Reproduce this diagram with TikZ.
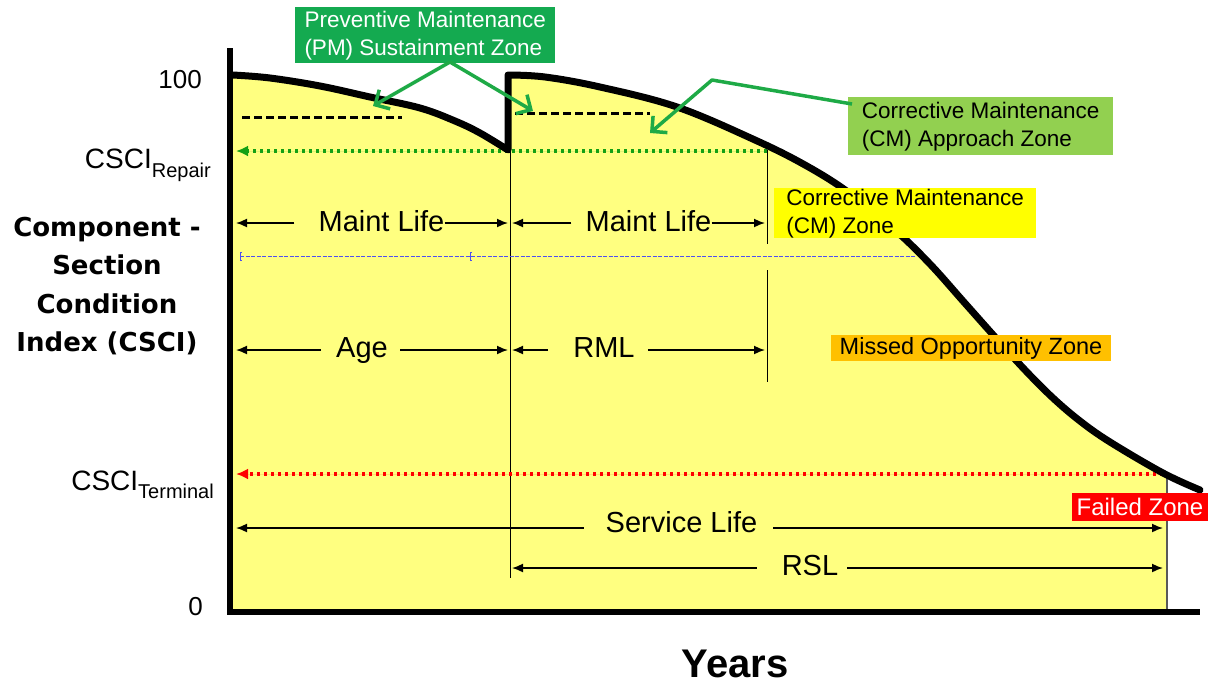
\documentclass[tikz,border=0pt]{standalone}
\usepackage{fontspec}
\setmainfont{Liberation Sans}
\newfontfamily\wideboldfont{DejaVu Sans}
\usetikzlibrary{arrows.meta}

\definecolor{areayellow}{RGB}{255,255,128}
\definecolor{pmgreen}{RGB}{20,170,80}
\definecolor{cmgreen}{RGB}{146,208,80}
\definecolor{cmyellow}{RGB}{255,255,0}
\definecolor{missorange}{RGB}{255,192,0}
\definecolor{failred}{RGB}{255,0,0}
\definecolor{arrowgreen}{RGB}{30,170,70}
\definecolor{repairgreen}{RGB}{20,160,20}
\definecolor{gridblue}{RGB}{80,80,240}

\newcommand\DimTxt{\fontsize{29}{34}\selectfont}
\newcommand\TickTxt{\fontsize{26}{30}\selectfont}
\newcommand\SubTxt{\fontsize{20}{24}\selectfont}
\newcommand\BoxTxt{\fontsize{22.5}{28}\selectfont}
\newcommand\AxisTxt{\wideboldfont\bfseries\fontsize{26}{38.5}\selectfont}
\newcommand\YearsTxt{\bfseries\fontsize{40}{46}\selectfont}

\begin{document}
\begin{tikzpicture}[x=1pt,y=-1pt,
  dimtext/.style={inner sep=0pt,anchor=base,font=\DimTxt},
  dimline/.style={line width=1.6pt,-{Latex[length=11pt,width=9pt]}},
  curveline/.style={line width=7pt,line join=round,line cap=round},
  axisline/.style={line width=6pt},
  guide/.style={line width=1pt},
  zonebox/.style={inner xsep=4pt,inner ysep=0pt,anchor=north west,align=left,font=\BoxTxt},
  callout/.style={draw=arrowgreen,line width=3.5pt,line join=round,
    -{Straight Barb[length=11pt,width=22pt,line width=3.5pt]}},
  levelline/.style={line width=3.5pt,dash pattern=on 3.5pt off 3.5pt,
    -{Latex[length=12pt,width=11pt]}},
  pmdash/.style={line width=3pt,dash pattern=on 8pt off 4pt},
  blueline/.style={draw=gridblue,line width=1pt,dash pattern=on 4pt off 1.5pt}
]
\useasboundingbox (0,0) rectangle (1208,683);

% area under the condition curve
\fill[areayellow]
  plot[smooth,tension=0.6] coordinates {(233,75) (270,78) (320,86) (370,97)
      (420,108) (455,121) (480,133) (508,150)}
  -- plot[smooth,tension=0.6] coordinates {(508,75) (545,77) (600,87) (677,107)
      (755,140) (805,165) (848,192) (895,230) (930,264) (963,301) (995,337)
      (1025,370) (1053,398) (1080,421) (1110,442) (1163,473)}
  -- (1167,474) -- (1167,610) -- (233,610) -- cycle;

% right edge of the service life area
\draw[gray!70!black,line width=1.5pt] (1167,474) -- (1167,610);

% PM reference levels
\draw[pmdash] (242,117) -- (402,117);
\draw[pmdash] (515,113) -- (650,113);

% time markers
\coordinate (tpm) at (510,150);
\coordinate (tcm) at (767,150);
\draw[guide] (tpm) -- (510,578);
\draw[guide] (tcm) -- (767,244);
\draw[guide] (767,270) -- (767,382);

% blue reference line
\draw[blueline] (240,256) -- (915,256);
\draw[gridblue,line width=0.8pt] (242,252) -- (240,252) -- (240,260) -- (242,260);
\draw[gridblue,line width=0.8pt] (472,252) -- (470,252) -- (470,260) -- (472,260);

% repair and terminal levels
\coordinate (rep0) at (236,151);
\coordinate (rep1) at (767,151);
\draw[levelline,draw=repairgreen,fill=repairgreen] (rep1) -- (rep0);
\coordinate (ter0) at (236,474);
\coordinate (ter1) at (1163,474);
\draw[levelline,draw=failred,fill=failred] (ter1) -- (ter0);

% condition curve with the PM jump
\draw[curveline]
  plot[smooth,tension=0.6] coordinates {(233,75) (270,78) (320,86) (370,97)
      (420,108) (455,121) (480,133) (508,150)}
  -- plot[smooth,tension=0.6] coordinates {(508,75) (545,77) (600,87) (677,107)
      (755,140) (805,165) (848,192) (895,230) (930,264) (963,301) (995,337)
      (1025,370) (1053,398) (1080,421) (1110,442) (1163,473) (1200,490)};

% axes
\draw[axisline] (230,48) -- (230,612) -- (1200,612);

% dimension: first maintenance life
\coordinate (ml1a) at (236,223); \coordinate (ml1b) at (508,223);
\node[dimtext] (ml1) at (381.5,231) {Maint Life};
\draw[dimline] ([xshift=-24pt]ml1.west |- ml1a) -- (ml1a);
\draw[dimline] (ml1.east |- ml1b) -- (ml1b);

% dimension: second maintenance life
\coordinate (ml2a) at (512,223); \coordinate (ml2b) at (765,223);
\node[dimtext] (ml2) at (648.5,231) {Maint Life};
\draw[dimline] ([xshift=-14pt]ml2.west |- ml2a) -- (ml2a);
\draw[dimline] (ml2.east |- ml2b) -- (ml2b);

% dimension: age
\coordinate (agea) at (236,350); \coordinate (ageb) at (508,350);
\node[dimtext] (age) at (362,357) {Age};
\draw[dimline] ([xshift=-15pt]age.west |- agea) -- (agea);
\draw[dimline] ([xshift=12pt]age.east |- ageb) -- (ageb);

% dimension: remaining maintenance life
\coordinate (rmla) at (512,350); \coordinate (rmlb) at (765,350);
\node[dimtext] (rml) at (604,357) {RML};
\draw[dimline] ([xshift=-25pt]rml.west |- rmla) -- (rmla);
\draw[dimline] ([xshift=13pt]rml.east |- rmlb) -- (rmlb);

% dimension: service life
\coordinate (sla) at (236,528); \coordinate (slb) at (1163,528);
\node[dimtext] (sl) at (681.5,532) {Service Life};
\draw[dimline] ([xshift=-22pt]sl.west |- sla) -- (sla);
\draw[dimline] ([xshift=16pt]sl.east |- slb) -- (slb);

% dimension: remaining service life
\coordinate (rsla) at (512,568); \coordinate (rslb) at (1163,568);
\node[dimtext] (rsl) at (810,575) {RSL};
\draw[dimline] ([xshift=-25pt]rsl.west |- rsla) -- (rsla);
\draw[dimline] ([xshift=9pt]rsl.east |- rslb) -- (rslb);

% axis labels
\node[inner sep=0pt,anchor=base east,font=\TickTxt] (t100) at (202,88) {100};
\node[inner sep=0pt,anchor=base east,font=\TickTxt] (t0) at (203,615) {0};
\node[inner sep=0pt,anchor=base east] (crep) at (211,168)
  {\fontsize{28}{32}\selectfont CSCI\raisebox{-9pt}{\SubTxt Repair}};
\node[inner sep=0pt,anchor=base east] (cter) at (214,490)
  {\fontsize{28}{32}\selectfont CSCI\raisebox{-8pt}{\SubTxt Terminal}};
\node[inner sep=0pt,align=center,font=\AxisTxt] (ylab) at (107,286)
  {Component -\\Section\\Condition\\Index (CSCI)};
\node[inner sep=0pt,anchor=base,font=\YearsTxt] (years) at (735,677) {Years};

% zone labels
\node[zonebox,fill=pmgreen,text=white,minimum width=260pt,minimum height=56pt]
  (pm) at (295,7) {Preventive Maintenance\\(PM) Sustainment Zone};
\node[zonebox,fill=cmgreen,minimum width=265pt,minimum height=58pt]
  (cma) at (848,97) {Corrective Maintenance\\(CM) Approach Zone};
\node[zonebox,fill=cmyellow,minimum width=262pt,minimum height=50pt]
  (cmz) at (774,188) {Corrective Maintenance\\(CM) Zone};
\node[fill=missorange,inner xsep=5pt,inner ysep=0pt,minimum width=280pt,
  minimum height=26pt,font=\fontsize{23.5}{26}\selectfont]
  (miss) at (971,348) {Missed Opportunity Zone};
\node[fill=failred,text=white,inner sep=0pt,minimum width=136pt,
  minimum height=28pt,font=\fontsize{24}{27}\selectfont]
  (fail) at (1140,507) {Failed Zone};

% callout arrows
\coordinate (pmroot) at (450,62);
\coordinate (pmtip1) at (373,106);
\coordinate (pmtip2) at (533,111);
\draw[callout] (pmroot) -- (pmtip1);
\draw[callout] (pmroot) -- (pmtip2);
\coordinate (cmbend) at (712,80);
\coordinate (cmtip) at (650,133);
\draw[callout] (cma.north west) ++(4,7) -- (cmbend) -- (cmtip);
\end{tikzpicture}
\end{document}
